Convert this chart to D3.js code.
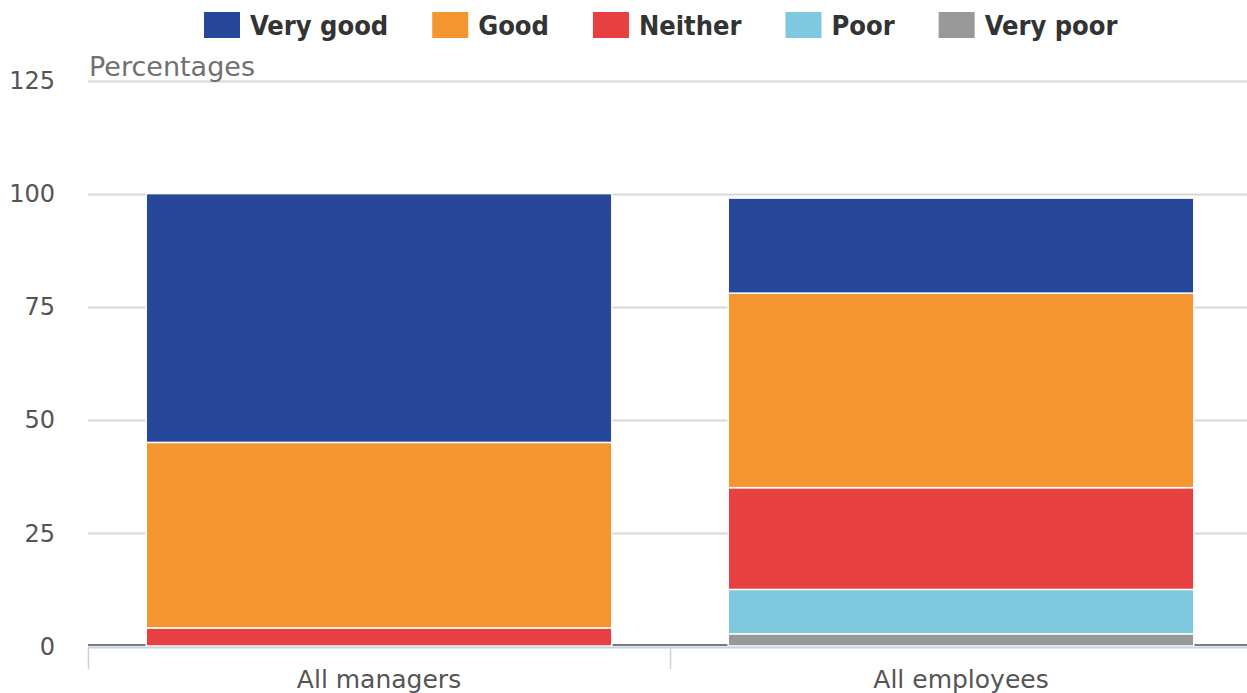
<!DOCTYPE html>
<html>
<head>
<meta charset="utf-8">
<script src="https://cdn.jsdelivr.net/npm/d3@7"></script>
<style>
  html, body { margin: 0; padding: 0; background: #fff; }
  svg { display: block; }
</style>
</head>
<body>
<svg id="chart" width="1247" height="693"></svg>
<script>
// Categories and stacked series (percentages)
const categories = ["All managers", "All employees"];
const seriesNames = ["Very poor", "Poor", "Neither", "Good", "Very good"];
const veryPoor = [0, 2.7];
const poor     = [0, 9.8];
const neither  = [4, 22.5];
const good     = [41, 43];
const veryGood = [55, 21];
const yTicks = [0, 25, 50, 75, 100, 125];
const legendOrder = ["Very good", "Good", "Neither", "Poor", "Very poor"];
const colors = {
  "Very good": "#27479a",
  "Good": "#f4952f",
  "Neither": "#e84040",
  "Poor": "#7ec9e0",
  "Very poor": "#999999"
};

(function draw() {
  const seriesValues = [veryPoor, poor, neither, good, veryGood];
  const rows = categories.map((c, i) => {
    const r = { category: c };
    seriesNames.forEach((s, k) => { r[s] = seriesValues[k][i]; });
    return r;
  });

  const svg = d3.select("#chart");
  const plotLeft = 88, plotRight = 1252, plotTop = 80.5, plotBottom = 646;

  const x = d3.scaleBand().domain(categories).range([plotLeft, plotRight])
    .paddingInner(0.2).paddingOuter(0.1);
  const y = d3.scaleLinear().domain([0, 125]).range([plotBottom, plotTop]);

  // Horizontal gridlines
  svg.append("g").selectAll("line")
    .data(yTicks.filter(d => d !== 0))
    .join("line")
    .attr("x1", plotLeft).attr("x2", 1247)
    .attr("y1", d => Math.round(y(d)) + 0.5).attr("y2", d => Math.round(y(d)) + 0.5)
    .attr("stroke", "#d8d8d8").attr("stroke-width", 2);

  // Zero line
  svg.append("line")
    .attr("x1", plotLeft).attr("x2", 1247)
    .attr("y1", y(0) - 1).attr("y2", y(0) - 1)
    .attr("stroke", "#7a7a7a").attr("stroke-width", 2);

  // Y tick labels
  svg.append("g").selectAll("text")
    .data(yTicks)
    .join("text")
    .attr("x", 55).attr("y", d => y(d))
    .attr("dy", "0.36em")
    .attr("text-anchor", "end")
    .attr("font-family", "DejaVu Sans")
    .attr("font-size", 24)
    .attr("fill", "#555")
    .text(d => d);

  // Axis title
  svg.append("text")
    .attr("x", 89).attr("y", 76)
    .attr("font-family", "DejaVu Sans")
    .attr("font-size", 27)
    .attr("fill", "#707070")
    .text("Percentages");

  // Stacked bars
  const layers = d3.stack().keys(seriesNames)(rows);
  svg.append("g").selectAll("g")
    .data(layers)
    .join("g")
    .attr("fill", d => colors[d.key])
    .selectAll("rect")
    .data(d => d.filter(p => p[1] - p[0] > 0))
    .join("rect")
    .attr("x", d => x(d.data.category))
    .attr("width", x.bandwidth())
    .attr("y", d => y(d[1]))
    .attr("height", d => y(d[0]) - y(d[1]))
    .attr("stroke", "#fff")
    .attr("stroke-width", 1.5);

  // X axis line and category boundary ticks
  const axisY = plotBottom + 1.5;
  svg.append("line")
    .attr("x1", plotLeft).attr("x2", 1247)
    .attr("y1", axisY).attr("y2", axisY)
    .attr("stroke", "#c6d2e0").attr("stroke-width", 2);
  const boundaries = categories.map(c => x(c) - x.step() * x.paddingInner() / 2);
  svg.append("g").selectAll("line")
    .data(boundaries)
    .join("line")
    .attr("x1", d => Math.round(d) + 0.5).attr("x2", d => Math.round(d) + 0.5)
    .attr("y1", axisY).attr("y2", 669)
    .attr("stroke", "#c6d2e0").attr("stroke-width", 1.5);

  // Category labels
  svg.append("g").selectAll("text")
    .data(categories)
    .join("text")
    .attr("x", d => x(d) + x.bandwidth() / 2)
    .attr("y", 688)
    .attr("text-anchor", "middle")
    .attr("font-family", "DejaVu Sans")
    .attr("font-size", 25)
    .attr("fill", "#555")
    .text(d => d);

  // Legend
  const legend = svg.append("g").attr("transform", "translate(0,12)");
  const items = legend.selectAll("g")
    .data(legendOrder)
    .join("g");
  items.append("rect")
    .attr("width", 36).attr("height", 26)
    .attr("fill", d => colors[d]);
  items.append("text")
    .attr("x", 46).attr("y", 23)
    .attr("font-family", "DejaVu Sans Condensed")
    .attr("font-weight", "bold")
    .attr("font-size", 27)
    .attr("fill", "#333")
    .text(d => d);
  let cx = 0;
  const positions = [];
  items.each(function () {
    const w = this.getBBox().width;
    positions.push(cx);
    cx += w + 44;
  });
  const startX = 204;
  items.attr("transform", (d, i) => `translate(${startX + positions[i]},0)`);
})();
</script>
</body>
</html>
